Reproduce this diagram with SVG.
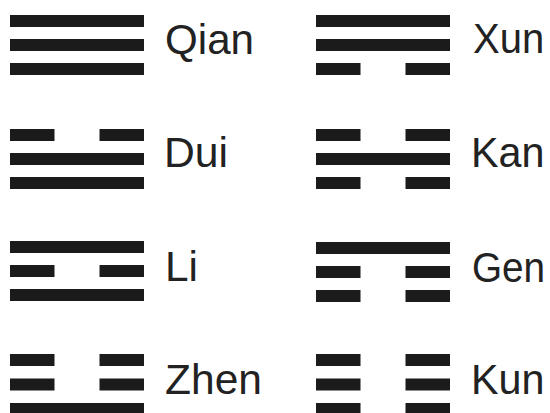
<svg xmlns="http://www.w3.org/2000/svg" xmlns:xlink="http://www.w3.org/1999/xlink" width="550" height="413" viewBox="0 0 550 413">
<style>
.bar{fill:#1b1b1b}
.lbl{font-family:"Liberation Sans",Arial,sans-serif;font-size:43px;fill:#222}
</style>
<defs>
<g id="yang"><rect class="bar" x="0" y="0" width="134" height="12"/></g>
<g id="yin"><rect class="bar" x="0" y="0" width="44.5" height="12"/><rect class="bar" x="89.5" y="0" width="44.5" height="12"/></g>
</defs>
<rect width="550" height="413" fill="#fff"/>
<g id="connectors"/>
<g id="qian">
<use xlink:href="#yang" x="10" y="15"/><use xlink:href="#yang" x="10" y="39"/><use xlink:href="#yang" x="10" y="63"/>
<text class="lbl" x="165" y="54" textLength="89" lengthAdjust="spacingAndGlyphs">Qian</text>
</g>
<g id="xun">
<use xlink:href="#yang" x="316" y="15"/><use xlink:href="#yang" x="316" y="39"/><use xlink:href="#yin" x="316" y="63"/>
<text class="lbl" transform="translate(473,53) scale(0.93,1)">Xun</text>
</g>
<g id="dui">
<use xlink:href="#yin" x="10" y="129"/><use xlink:href="#yang" x="10" y="153"/><use xlink:href="#yang" x="10" y="177"/>
<text class="lbl" x="164" y="167" textLength="64" lengthAdjust="spacingAndGlyphs">Dui</text>
</g>
<g id="kan">
<use xlink:href="#yin" x="316" y="129"/><use xlink:href="#yang" x="316" y="153"/><use xlink:href="#yin" x="316" y="177"/>
<text class="lbl" transform="translate(471,167) scale(0.96,1)">Kan</text>
</g>
<g id="li">
<use xlink:href="#yang" x="10" y="241"/><use xlink:href="#yin" x="10" y="265"/><use xlink:href="#yang" x="10" y="289"/>
<text class="lbl" x="165" y="281" textLength="33" lengthAdjust="spacingAndGlyphs">Li</text>
</g>
<g id="gen">
<use xlink:href="#yang" x="316" y="242"/><use xlink:href="#yin" x="316" y="266"/><use xlink:href="#yin" x="316" y="290"/>
<text class="lbl" transform="translate(472,282) scale(0.9,1)">Gen</text>
</g>
<g id="zhen">
<use xlink:href="#yin" x="10" y="354"/><use xlink:href="#yin" x="10" y="378.5"/><use xlink:href="#yang" x="10" y="403"/>
<text class="lbl" x="165" y="394" textLength="97" lengthAdjust="spacingAndGlyphs">Zhen</text>
</g>
<g id="kun">
<use xlink:href="#yin" x="316" y="354"/><use xlink:href="#yin" x="316" y="378.5"/><use xlink:href="#yin" x="316" y="403"/>
<text class="lbl" transform="translate(471,394) scale(0.96,1)">Kun</text>
</g>
</svg>
